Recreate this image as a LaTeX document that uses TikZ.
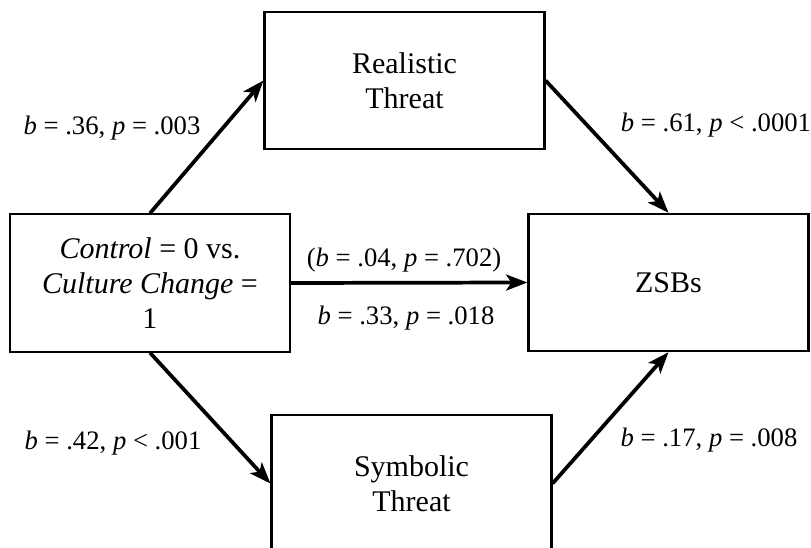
\documentclass[tikz,border=0pt]{standalone}
\usepackage{fontspec}
\setmainfont{Liberation Serif}
\usetikzlibrary{arrows.meta}
\begin{document}
\begin{tikzpicture}[x=0.75pt,y=-0.75pt,
  box/.style={draw,line width=1.6pt,rectangle,align=center,inner sep=0pt,
    minimum width=210pt,minimum height=103pt,font=\fontsize{22.5}{26.5}\selectfont},
  lab/.style={inner sep=0pt,font=\fontsize{20}{24}\selectfont},
  arr/.style={line width=2.8pt,-{Stealth[length=16pt,width=12pt,inset=4pt]}}]
\useasboundingbox (0,0) rectangle (811,548);
\clip (0,0) rectangle (811,548);
\node[box] (ctrl) at (150,283) {\textit{Control} = 0 vs.\\ \textit{Culture Change} =\\ 1};
\node[box] (real) at (404.5,80.5) {Realistic\\ Threat};
\node[box] (zsb) at (668.5,282.5) {ZSBs};
\node[box] (sym) at (411.5,483.5) {Symbolic\\ Threat};
\draw[arr] (ctrl.north) -- (real.west);
\draw[arr] (real.east) -- (zsb.north);
\draw[arr] (ctrl.east) -- (zsb.west);
\draw[arr] (ctrl.south) -- (sym.west);
\draw[arr] (sym.east) -- (zsb.south);
\node[lab] (l1) at (112,128) {\textit{b} = .36, \textit{p} = .003};
\node[lab] (l2) at (716,125) {\textit{b} = .61, \textit{p} < .0001};
\node[lab] (l3) at (404,260) {(\textit{b} = .04, \textit{p} = .702)};
\node[lab] (l4) at (406,318) {\textit{b} = .33, \textit{p} = .018};
\node[lab] (l5) at (113,443) {\textit{b} = .42, \textit{p} < .001};
\node[lab] (l6) at (709,440) {\textit{b} = .17, \textit{p} = .008};
\end{tikzpicture}
\end{document}
